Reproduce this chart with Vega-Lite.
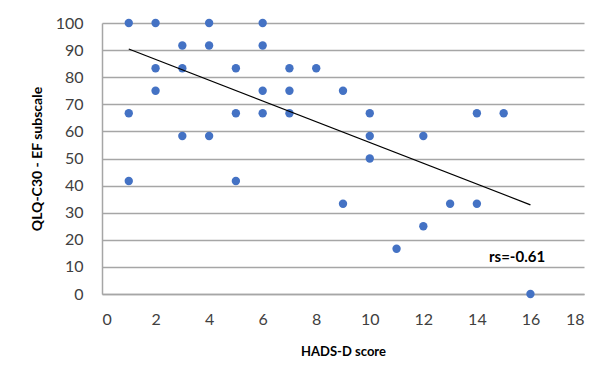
{
  "$schema": "https://vega.github.io/schema/vega-lite/v6.json",
  "width": 482,
  "height": 271,
  "autosize": "none",
  "padding": {"left": 102, "top": 23, "right": 29, "bottom": 83},
  "background": "white",
  "config": {
    "view": {"stroke": null},
    "font": "Lato",
    "axis": {"labelFont": "Lato", "titleFont": "Lato", "labelColor": "#404040", "titleColor": "#000000", "labelOverlap": false}
  },
  "datasets": {
    "pts": [
      {"x": 1, "y": 100}, {"x": 1, "y": 66.7}, {"x": 1, "y": 41.7},
      {"x": 2, "y": 100}, {"x": 2, "y": 83.3}, {"x": 2, "y": 75},
      {"x": 3, "y": 91.7}, {"x": 3, "y": 83.3}, {"x": 3, "y": 58.3},
      {"x": 4, "y": 100}, {"x": 4, "y": 91.7}, {"x": 4, "y": 58.3},
      {"x": 5, "y": 83.3}, {"x": 5, "y": 66.7}, {"x": 5, "y": 41.7},
      {"x": 6, "y": 100}, {"x": 6, "y": 91.7}, {"x": 6, "y": 75}, {"x": 6, "y": 66.7},
      {"x": 7, "y": 83.3}, {"x": 7, "y": 75}, {"x": 7, "y": 66.7},
      {"x": 8, "y": 83.3},
      {"x": 9, "y": 75}, {"x": 9, "y": 33.3},
      {"x": 10, "y": 66.7}, {"x": 10, "y": 58.3}, {"x": 10, "y": 50},
      {"x": 11, "y": 16.7},
      {"x": 12, "y": 58.3}, {"x": 12, "y": 25},
      {"x": 13, "y": 33.3},
      {"x": 14, "y": 66.7}, {"x": 14, "y": 33.3},
      {"x": 15, "y": 66.7},
      {"x": 16, "y": 0}
    ],
    "trend": [{"x": 1, "y": 90.4}, {"x": 16, "y": 32.9}],
    "note": [{"x": 15.5, "y": 13.7, "label": "rs=-0.61"}]
  },
  "encoding": {
    "x": {
      "field": "x", "type": "quantitative",
      "scale": {"domain": [0, 18], "nice": false},
      "axis": {
        "title": "HADS-D score", "values": [0, 2, 4, 6, 8, 10, 12, 14, 16, 18],
        "grid": false, "ticks": false, "domain": true, "domainColor": "#a6a6a6", "domainWidth": 1.5,
        "labelFontSize": 16, "labelPadding": 17, "titleFontSize": 13, "titleFontWeight": "bold", "titlePadding": 18
      }
    },
    "y": {
      "field": "y", "type": "quantitative",
      "scale": {"domain": [0, 100], "nice": false},
      "axis": {
        "title": "QLQ-C30 -  EF subscale", "values": [0, 10, 20, 30, 40, 50, 60, 70, 80, 90, 100],
        "grid": true, "gridColor": "#a6a6a6", "gridOpacity": 1, "gridWidth": 1.5, "ticks": false, "domain": true, "domainColor": "#a6a6a6", "domainWidth": 1.5,
        "labelFontSize": 16, "labelPadding": 19, "titleFontSize": 14, "titleFontWeight": "bold", "titlePadding": 11
      }
    }
  },
  "layer": [
    {
      "data": {"name": "pts"},
      "mark": {"type": "point", "filled": true, "opacity": 1, "size": 70, "color": "#4472C4"}
    },
    {
      "data": {"name": "trend"},
      "mark": {"type": "line", "color": "#000000", "strokeWidth": 1.3}
    },
    {
      "data": {"name": "note"},
      "mark": {"type": "text", "fontSize": 15, "fontWeight": "bold", "color": "#000000", "align": "center", "baseline": "middle"},
      "encoding": {
        "text": {"field": "label"}
      }
    }
  ]
}
